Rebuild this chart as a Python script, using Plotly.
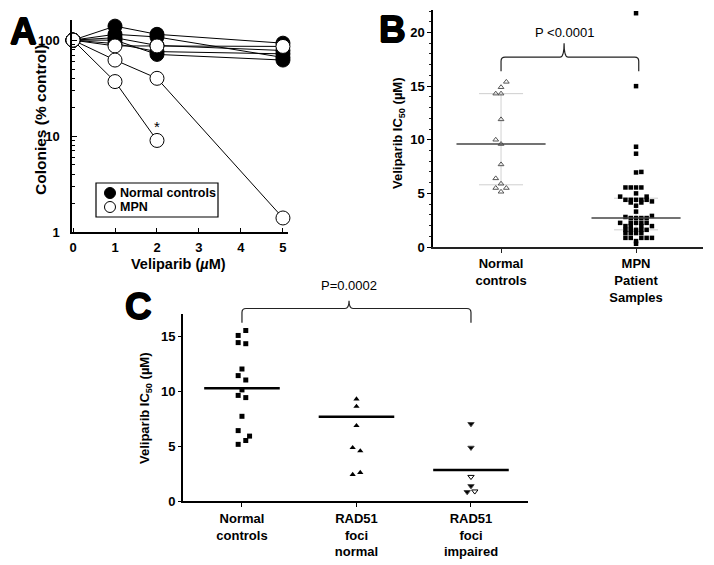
import numpy as np
import plotly.graph_objects as go

W, H = 714, 565
FONT = "Liberation Sans, Arial, Helvetica, sans-serif"

# ---------------- data ----------------
# Panel A: colony survival (% control) vs veliparib dose
a_dose = [0, 1, 2, 5]
a_normal_1 = [100, 140, 115, 93]
a_normal_2 = [100, 115, 108, 66]
a_normal_3 = [100, 106, 88, 78]
a_normal_4 = [100, 100, 71, 62]
a_normal_5 = [100, 92, 76, 72]
a_mpn_1 = [100, 87, 87, 86]
a_mpn_2 = [100, 62, 40, 1.4]
a_mpn_3 = [100, 37, 9]          # no value at 5 uM
a_ticks_x = [0, 1, 2, 3, 4, 5]
a_ticks_y = [1, 10, 100]

# Panel B: IC50 values
b_categories = ["Normal<br>controls", "MPN<br>Patient<br>Samples"]
b_normal_values = [15.4, 14.9, 14.3, 14.3, 11.9, 10.0, 9.6, 7.7, 6.4, 5.9, 5.5, 5.5, 5.15]
b_normal_slots = [1, 0, -1, 0, 0, -1, 0, 0, -1, 0, -1, 1, 0]
b_mpn_values = [21.8, 15.0, 9.35, 8.7, 6.95, 7.0,
                5.55, 5.55, 5.55, 5.55, 5.0, 4.7, 4.7,
                4.4, 4.4, 4.4, 4.4, 4.4, 4.25, 4.15, 4.15, 3.85, 3.3,
                2.9, 2.8, 2.7, 2.7, 2.7, 2.7,
                2.25, 2.25, 2.25, 2.25, 2.25,
                1.95, 1.95, 1.95, 1.95,
                1.6, 1.6, 1.6, 1.6, 1.6,
                1.3, 1.3, 1.3, 1.3,
                0.85, 0.85, 0.85, 0.85, 0.85, 0.55, 0.3]
b_mpn_slots = [0, 0, 0, 0, 0, 1,
               -2, -1, 0, 1, 0, -3, 2,
               -2, -1, 0, 1, 2, 3, -1, 1, 0, 0,
               3, -2, -1, 0, 1, 2,
               -3, -1, 0, 1, 2,
               -2, -1, 1, 3,
               -2, -1, 0, 1, 2,
               -2, -1, 0, 1,
               -2, -1, 1, 2, 3, 0, 0]
b_median = [9.6, 2.7]
b_q1 = [5.8, 1.6]
b_q3 = [14.3, 4.55]
b_ticks_y = [0, 5, 10, 15, 20]

# Panel C: IC50 by RAD51 foci status
c_categories = ["Normal<br>controls", "RAD51<br>foci<br>normal", "RAD51<br>foci<br>impaired"]
c_normal_values = [15.5, 15.05, 14.4, 14.3, 12.0, 11.4, 11.0, 10.1, 9.6, 9.4, 7.7, 6.4, 5.9, 5.5, 5.15]
c_normal_slots = [1, -1, -1, 1, 0, -1, 1, 0, -1, 1, 0, -1, 2, 1, -1]
c_radnorm_values = [9.27, 8.6, 6.85, 4.85, 4.55, 2.58, 2.4]
c_radnorm_slots = [0, 0, 0, -1, 1, 1, -1]
c_radimp_values = [7.0, 4.85, 2.2, 1.36, 0.82, 0.88]
c_radimp_slots = [0, 0, 0, 0, -1, 1]
c_radimp_filled = [True, True, False, True, True, False]
c_center_line = [10.24, 7.67, 2.82]
c_ticks_y = [0, 5, 10, 15]

# ---------------- layout constants (pixel boxes) ----------------
A_BOX = (72, 288, 20, 232)     # left, right, top, bottom
B_BOX = (433, 703, 10, 247)
C_BOX = (183, 528, 314, 501)
A_XR, A_YR = [-0.024, 5.12], [0, 2.21]
B_XR, B_YR = [-0.504, 1.496], [0, 22.1]
C_XR, C_YR = [-0.515, 2.498], [0, 17.0]
B_SLOT = 5.3 / 135.0
C_SLOT = 3.8 / 114.5


def dom_x(box):
    return [box[0] / W, box[1] / W]


def dom_y(box):
    return [1 - box[3] / H, 1 - box[2] / H]


def to_px(box, xr, yr, x, y):
    l, r, t, b = box
    px = l + (x - xr[0]) / (xr[1] - xr[0]) * (r - l)
    py = b - (y - yr[0]) / (yr[1] - yr[0]) * (b - t)
    return px, py


def P(px, py):
    return f"{px / W:.5f},{1 - py / H:.5f}"


def bracket(box, xr, yr, xl, xrt, xc, y_leg, y_h, y_peak, rad=4):
    xl_p, yleg_p = to_px(box, xr, yr, xl, y_leg)
    xr_p, _ = to_px(box, xr, yr, xrt, y_leg)
    xc_p, yh_p = to_px(box, xr, yr, xc, y_h)
    _, ypk_p = to_px(box, xr, yr, xc, y_peak)
    path = (f"M {P(xl_p, yleg_p)} L {P(xl_p, yh_p + rad)} Q {P(xl_p, yh_p)} {P(xl_p + rad, yh_p)} "
            f"L {P(xc_p - rad, yh_p)} Q {P(xc_p, yh_p)} {P(xc_p, ypk_p)} "
            f"Q {P(xc_p, yh_p)} {P(xc_p + rad, yh_p)} L {P(xr_p - rad, yh_p)} "
            f"Q {P(xr_p, yh_p)} {P(xr_p, yh_p + rad)} L {P(xr_p, yleg_p)}")
    return dict(type="path", path=path, xref="paper", yref="paper",
                line=dict(color="#222", width=1.2))


fig = go.Figure()

# ---------------- Panel A ----------------
for ys in [a_normal_1, a_normal_2, a_normal_3, a_normal_4, a_normal_5]:
    fig.add_trace(go.Scatter(x=a_dose[:len(ys)], y=ys, mode="lines+markers", xaxis="x", yaxis="y",
                             line=dict(color="black", width=1),
                             marker=dict(symbol="circle", size=14, color="black",
                                         line=dict(color="black", width=1)),
                             cliponaxis=False, showlegend=False))
for ys in [a_mpn_1, a_mpn_2, a_mpn_3]:
    fig.add_trace(go.Scatter(x=a_dose[:len(ys)], y=ys, mode="lines+markers", xaxis="x", yaxis="y",
                             line=dict(color="black", width=1),
                             marker=dict(symbol="circle", size=14, color="white",
                                         line=dict(color="black", width=1)),
                             cliponaxis=False, showlegend=False))

# legend symbols (overlay axis in pixel units)
LEG_SYM_X = 110
LEG_ROWS_Y = [193, 207]
fig.add_trace(go.Scatter(x=[LEG_SYM_X], y=[LEG_ROWS_Y[0]], mode="markers", xaxis="x4", yaxis="y4",
                         marker=dict(symbol="circle", size=11, color="black",
                                     line=dict(color="black", width=1)),
                         showlegend=False, hoverinfo="skip"))
fig.add_trace(go.Scatter(x=[LEG_SYM_X], y=[LEG_ROWS_Y[1]], mode="markers", xaxis="x4", yaxis="y4",
                         marker=dict(symbol="circle", size=11, color="white",
                                     line=dict(color="black", width=1)),
                         showlegend=False, hoverinfo="skip"))

# ---------------- Panel B ----------------
for i in range(2):
    fig.add_trace(go.Scatter(x=[i, i], y=[b_q1[i], b_q3[i]], mode="lines", xaxis="x2", yaxis="y2",
                             line=dict(color="#d2d2d2", width=1), showlegend=False))
    for q in (b_q1[i], b_q3[i]):
        fig.add_trace(go.Scatter(x=[i - 0.163, i + 0.163], y=[q, q], mode="lines", xaxis="x2", yaxis="y2",
                                 line=dict(color="#cfcfcf", width=1), showlegend=False))
fig.add_trace(go.Scatter(x=[0 + s * B_SLOT for s in b_normal_slots], y=b_normal_values,
                         mode="markers", xaxis="x2", yaxis="y2",
                         marker=dict(symbol="triangle-up-open", size=5, color="#555",
                                     line=dict(width=1)),
                         showlegend=False))
fig.add_trace(go.Scatter(x=[1 + s * B_SLOT for s in b_mpn_slots], y=b_mpn_values,
                         mode="markers", xaxis="x2", yaxis="y2",
                         marker=dict(symbol="square", size=4.5, color="black"),
                         cliponaxis=False, showlegend=False))
for i in range(2):
    fig.add_trace(go.Scatter(x=[i - 0.33, i + 0.33], y=[b_median[i], b_median[i]], mode="lines",
                             xaxis="x2", yaxis="y2", line=dict(color="#444", width=1.5),
                             showlegend=False))

# ---------------- Panel C ----------------
fig.add_trace(go.Scatter(x=[0 + s * C_SLOT for s in c_normal_slots], y=c_normal_values,
                         mode="markers", xaxis="x3", yaxis="y3",
                         marker=dict(symbol="square", size=5, color="black"), showlegend=False))
fig.add_trace(go.Scatter(x=[1 + s * C_SLOT for s in c_radnorm_slots], y=c_radnorm_values,
                         mode="markers", xaxis="x3", yaxis="y3",
                         marker=dict(symbol="triangle-up", size=5.5, color="black"), showlegend=False))
fig.add_trace(go.Scatter(x=[2 + s * C_SLOT for s in c_radimp_slots], y=c_radimp_values,
                         mode="markers", xaxis="x3", yaxis="y3",
                         marker=dict(symbol=["triangle-down" if f else "triangle-down-open"
                                             for f in c_radimp_filled],
                                     size=5.5, color="black", line=dict(width=1)),
                         showlegend=False))
for i in range(3):
    fig.add_trace(go.Scatter(x=[i - 0.33, i + 0.33], y=[c_center_line[i]] * 2, mode="lines",
                             xaxis="x3", yaxis="y3", line=dict(color="black", width=2.5),
                             showlegend=False))

# ---------------- axes ----------------
tick_font = dict(family=FONT, size=13, color="black", weight="bold")
common = dict(showgrid=False, zeroline=False, showline=True, linecolor="black",
              tickcolor="black", tickfont=tick_font, fixedrange=True, automargin=False)

fig.update_layout(
    width=W, height=H, autosize=False,
    margin=dict(l=0, r=0, t=0, b=0, pad=0),
    paper_bgcolor="white", plot_bgcolor="rgba(0,0,0,0)",
    font=dict(family=FONT, color="black"),
    showlegend=False,
    xaxis=dict(domain=dom_x(A_BOX), range=A_XR, anchor="y", tickvals=a_ticks_x,
               ticks="inside", ticklen=4, linewidth=1.5, ticklabelstandoff=3, **common),
    yaxis=dict(domain=dom_y(A_BOX), type="log", range=A_YR, anchor="x",
               tickvals=a_ticks_y, ticktext=[str(v) for v in a_ticks_y],
               ticks="inside", ticklen=5, linewidth=1.5, ticklabelstandoff=8,
               minor=dict(tickvals=[2, 3, 4, 5, 6, 7, 8, 9, 20, 30, 40, 50, 60, 70, 80, 90],
                          ticks="inside", ticklen=3, tickcolor="black"),
               **common),
    xaxis2=dict(domain=dom_x(B_BOX), range=B_XR, anchor="y2", tickvals=[0, 1],
                ticktext=b_categories, ticks="outside", ticklen=4, linewidth=1.5,
                linecolor="#222", tickcolor="#222",
                **{k: v for k, v in common.items() if k not in ("linecolor", "tickcolor")}),
    yaxis2=dict(domain=dom_y(B_BOX), range=B_YR, anchor="x2", tickvals=b_ticks_y,
                ticks="outside", ticklen=4, linewidth=1.5,
                minor=dict(dtick=1, ticks="outside", ticklen=2.5, tickcolor="#222"),
                **common),
    xaxis3=dict(domain=dom_x(C_BOX), range=C_XR, anchor="y3", tickvals=[0, 1, 2],
                ticktext=c_categories, ticks="outside", ticklen=4, linewidth=2, **common),
    yaxis3=dict(domain=dom_y(C_BOX), range=C_YR, anchor="x3", tickvals=c_ticks_y,
                ticks="outside", ticklen=3, linewidth=2, **common),
    xaxis4=dict(domain=[0, 1], range=[0, W], anchor="y4", visible=False, fixedrange=True),
    yaxis4=dict(domain=[0, 1], range=[H, 0], anchor="x4", visible=False, fixedrange=True),
)

# ---------------- shapes: brackets, legend box ----------------
shapes = []
shapes.append(bracket(B_BOX, B_XR, B_YR, 0, 1.02, 0.467, 16.4, 17.7, 19.0))
shapes.append(bracket(C_BOX, C_XR, C_YR, 0, 2.0, 0.935, 16.2, 17.5, 18.2))
shapes.append(dict(type="rect", xref="paper", yref="paper",
                   x0=96 / W, x1=218 / W, y0=1 - 217 / H, y1=1 - 183 / H,
                   line=dict(color="black", width=1.2), fillcolor="rgba(0,0,0,0)"))
fig.update_layout(shapes=shapes)

# ---------------- annotations ----------------
ann = []
HEAVY = "0.7px 0 0 black, -0.7px 0 0 black, 0 0.7px 0 black, 0 -0.7px 0 black"


def txt(text, px, py, size, bold=True, angle=0, xanchor="center", yanchor="middle", shadow=None):
    f = dict(family=FONT, size=size, color="black", weight="bold" if bold else "normal")
    if shadow:
        f["shadow"] = shadow
    ann.append(dict(text=text, x=px / W, y=1 - py / H, xref="paper", yref="paper",
                    showarrow=False, textangle=angle, xanchor=xanchor, yanchor=yanchor, font=f))


# panel letters
txt("A", 23.5, 31, 37, shadow=HEAVY)
txt("B", 392, 30, 37, shadow=HEAVY)
txt("C", 138, 306, 37, shadow=HEAVY)
# axis titles
txt("Colonies (% control)", 40, 120, 15.5, angle=-90)
txt("Veliparib (<i>µ</i>M)", 178, 264, 14.5)
txt("Veliparib IC<sub>50</sub> (µM)", 398, 133, 13, angle=-90)
txt("Veliparib IC<sub>50</sub> (µM)", 145, 408, 13, angle=-90)
# legend labels
txt("Normal controls", 118, LEG_ROWS_Y[0], 12.5, xanchor="left")
txt("MPN", 118, LEG_ROWS_Y[1], 12.5, xanchor="left")
# p-values
bx, by = to_px(B_BOX, B_XR, B_YR, 0.467, 20.0)
txt("P <0.0001", bx, by, 13, bold=False)
cx, cy = to_px(C_BOX, C_XR, C_YR, 0.935, 19.6)
txt("P=0.0002", cx, cy, 13, bold=False)
# asterisk above the 2 uM MPN point
ann.append(dict(text="*", x=2, y=float(np.log10(a_mpn_3[2])), xref="x", yref="y",
                showarrow=False, yshift=14, font=dict(family=FONT, size=15, color="black")))
fig.update_layout(annotations=ann)

fig.write_html("out.html", config={"displayModeBar": False},
               post_script="document.body.style.margin='0';document.body.style.padding='0';")
